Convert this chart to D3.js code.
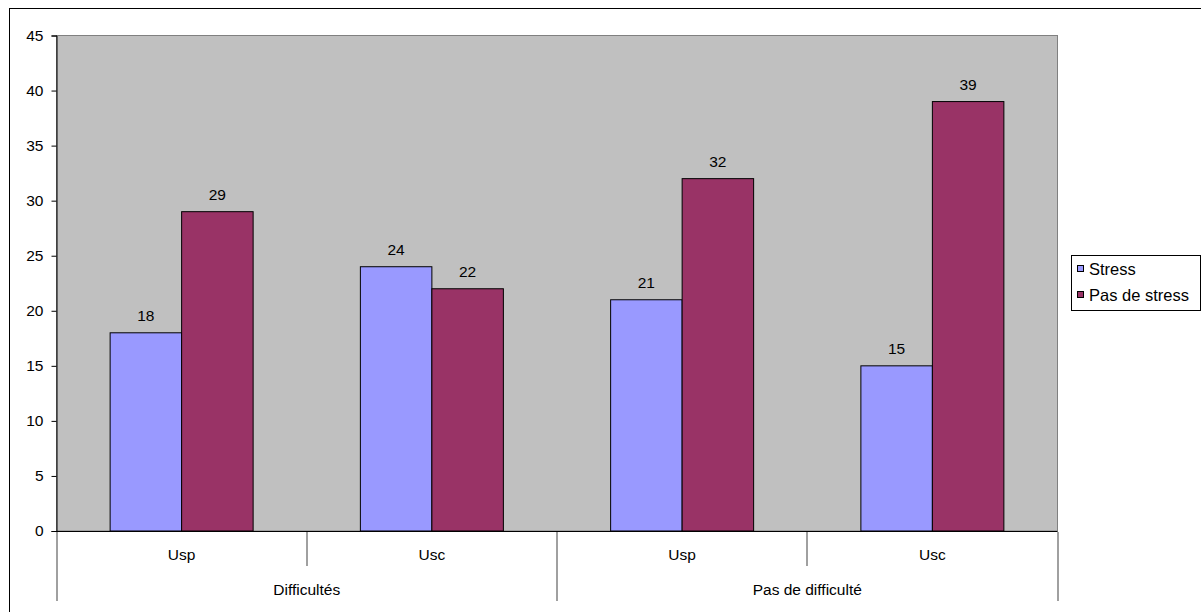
<!DOCTYPE html>
<html>
<head>
<meta charset="utf-8">
<script src="https://cdn.jsdelivr.net/npm/d3@7"></script>
<style>
  html, body { margin: 0; padding: 0; background: #fff; }
  svg { display: block; font-family: "Liberation Sans", Arial, sans-serif; }
</style>
</head>
<body>
<svg id="chart" width="1201" height="612"></svg>
<script>
// Groups and sub-categories along the x axis
const groups = ["Difficultés", "Pas de difficulté"];
const subCategories = ["Usp", "Usc", "Usp", "Usc"];
const groupOfCategory = [0, 0, 1, 1];
const seriesNames = ["Stress", "Pas de stress"];
const stressValues = [18, 24, 21, 15];
const noStressValues = [29, 22, 32, 39];
const seriesColors = ["#9999FF", "#993366"];
const yTicks = [0, 5, 10, 15, 20, 25, 30, 35, 40, 45];

const svg = d3.select("#chart");

// Chart frame
svg.append("rect")
  .attr("x", 9.5).attr("y", 8.5)
  .attr("width", 1300).attr("height", 700)
  .attr("fill", "#fff").attr("stroke", "#000").attr("stroke-width", 1);

const plot = { left: 56.5, right: 1057.5, top: 35.5, bottom: 531 };

const y = d3.scaleLinear().domain([0, 45]).range([plot.bottom, plot.top]);
const x = d3.scaleBand().domain(d3.range(subCategories.length))
  .range([plot.left, plot.right]).paddingInner(0).paddingOuter(0);
const barW = x.bandwidth() / 3.5;
const xs = d3.scaleBand().domain([0, 1])
  .range([0, barW * 2]);

// Plot background
svg.append("rect")
  .attr("x", plot.left).attr("y", plot.top)
  .attr("width", plot.right - plot.left).attr("height", plot.bottom - plot.top)
  .attr("fill", "#C0C0C0").attr("stroke", "#808080").attr("stroke-width", 1);

// Bars
const rows = subCategories.map((c, i) => ({ i, values: [stressValues[i], noStressValues[i]] }));
const barG = svg.append("g");
rows.forEach(r => {
  const start = x(r.i) + (x.bandwidth() - barW * 2) / 2;
  r.values.forEach((v, s) => {
    const bx = start + xs(s);
    barG.append("rect")
      .attr("x", bx).attr("y", y(v))
      .attr("width", barW).attr("height", y(0) - y(v))
      .attr("fill", seriesColors[s]).attr("stroke", "#000").attr("stroke-width", 1);
    barG.append("text")
      .attr("x", bx + barW / 2).attr("y", y(v) - 12)
      .attr("text-anchor", "middle").attr("font-size", 15.5).attr("fill", "#000")
      .text(v);
  });
});

// Y axis
const yAxis = svg.append("g").attr("transform", `translate(${plot.left},0)`)
  .call(d3.axisLeft(y).tickValues(yTicks).tickSize(5).tickPadding(8));
yAxis.select(".domain").attr("stroke", "#000");
yAxis.selectAll(".tick line").attr("stroke", "#000");
yAxis.selectAll(".tick text").attr("font-size", 15.5).attr("fill", "#000")
  .attr("font-family", "Liberation Sans, Arial, sans-serif");

// X axis baseline
svg.append("line")
  .attr("x1", plot.left).attr("x2", plot.right)
  .attr("y1", plot.bottom + 0.5).attr("y2", plot.bottom + 0.5)
  .attr("stroke", "#000").attr("stroke-width", 1);

// Category separators: short between sub-categories, long between groups
const xAx = svg.append("g");
d3.range(subCategories.length + 1).forEach(k => {
  const px = Math.round(k < subCategories.length ? x(k) : plot.right);
  const isGroupEdge = k === 0 || k === subCategories.length || groupOfCategory[k] !== groupOfCategory[k - 1];
  xAx.append("line")
    .attr("x1", px).attr("x2", px)
    .attr("y1", plot.bottom + 1).attr("y2", isGroupEdge ? 601 : 566)
    .attr("stroke", "#808080").attr("stroke-width", 1.5);
});

subCategories.forEach((c, i) => {
  xAx.append("text")
    .attr("x", x(i) + x.bandwidth() / 2).attr("y", 560)
    .attr("text-anchor", "middle").attr("font-size", 15.5).text(c);
});
groups.forEach((g, gi) => {
  const idx = d3.range(subCategories.length).filter(i => groupOfCategory[i] === gi);
  const cx = (x(idx[0]) + x(idx[idx.length - 1]) + x.bandwidth()) / 2;
  xAx.append("text")
    .attr("x", cx).attr("y", 595)
    .attr("text-anchor", "middle").attr("font-size", 15.5).text(g);
});

// Legend
const lg = svg.append("g");
lg.append("rect")
  .attr("x", 1071.5).attr("y", 255.5).attr("width", 129).attr("height", 55)
  .attr("fill", "#fff").attr("stroke", "#000").attr("stroke-width", 1);
seriesNames.forEach((n, s) => {
  const base = 275 + s * 26;
  lg.append("rect")
    .attr("x", 1077.5).attr("y", base - 9.5).attr("width", 6).attr("height", 6)
    .attr("fill", seriesColors[s]).attr("stroke", "#000").attr("stroke-width", 1);
  lg.append("text")
    .attr("x", 1089).attr("y", base)
    .attr("font-size", 16.5).text(n);
});
</script>
</body>
</html>
